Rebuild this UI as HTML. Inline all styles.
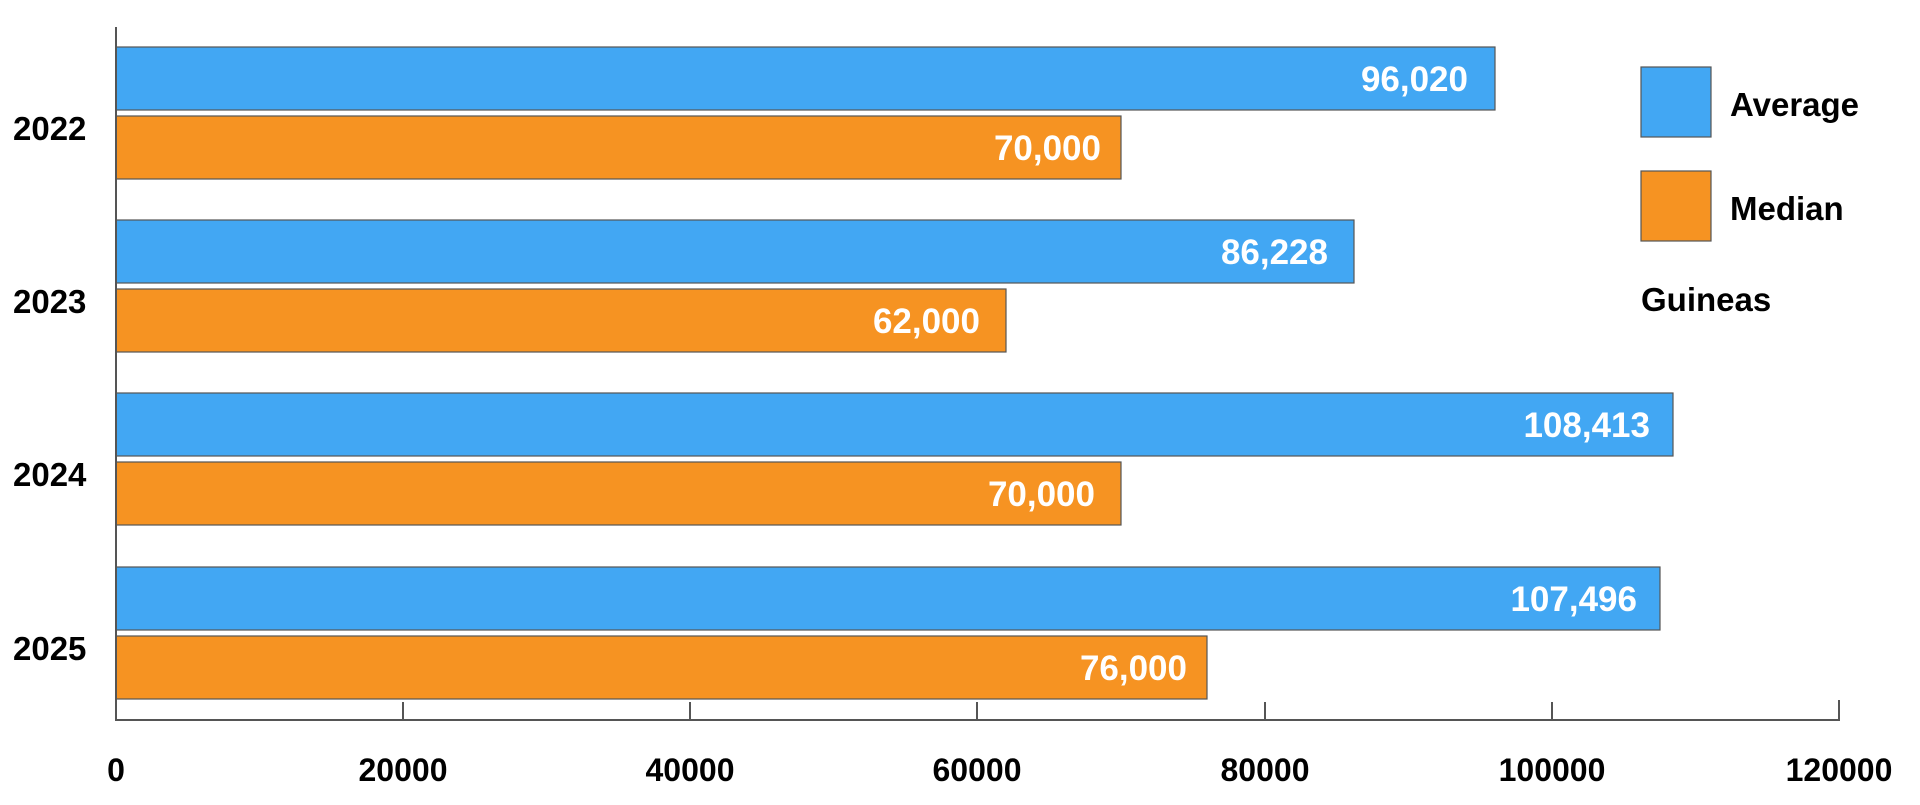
<!DOCTYPE html>
<html><head><style>
body{margin:0;width:1920px;height:800px;background:#fff;overflow:hidden}
svg text{font-family:"Liberation Sans",sans-serif;font-weight:bold}
</style></head><body>
<svg width="1920" height="800" viewBox="0 0 1920 800">
<g stroke="#555" stroke-width="1.2">
<rect x="116" y="47" width="1379" height="63" fill="#42A7F3"/>
<rect x="116" y="116" width="1005" height="63" fill="#F69322"/>
<rect x="116" y="220" width="1238" height="63" fill="#42A7F3"/>
<rect x="116" y="289" width="890" height="63" fill="#F69322"/>
<rect x="116" y="393" width="1557" height="63" fill="#42A7F3"/>
<rect x="116" y="462" width="1005" height="63" fill="#F69322"/>
<rect x="116" y="567" width="1544" height="63" fill="#42A7F3"/>
<rect x="116" y="636" width="1091" height="63" fill="#F69322"/>
<rect x="1641" y="67" width="70" height="70" fill="#42A7F3"/>
<rect x="1641" y="171" width="70" height="70" fill="#F69322"/>
</g>
<g stroke="#555" stroke-width="2" fill="none">
<path d="M116 27V720H1839V700"/>
<path d="M403 720V702M690 720V702M977 720V702M1265 720V702M1552 720V702"/>
</g>
<g font-size="35" fill="#fff" text-anchor="end">
<text x="1468" y="91">96,020</text>
<text x="1101" y="160">70,000</text>
<text x="1328" y="264">86,228</text>
<text x="980" y="333">62,000</text>
<text x="1650" y="437">108,413</text>
<text x="1095" y="506">70,000</text>
<text x="1637" y="611">107,496</text>
<text x="1187" y="680">76,000</text>
</g>
<g font-size="33" fill="#000">
<text x="13" y="140">2022</text>
<text x="13" y="313">2023</text>
<text x="13" y="486">2024</text>
<text x="13" y="660">2025</text>
<text x="1730" y="116">Average</text>
<text x="1730" y="220">Median</text>
<text x="1641" y="311">Guineas</text>
</g>
<g font-size="32" fill="#000" text-anchor="middle">
<text x="116" y="781">0</text>
<text x="403" y="781">20000</text>
<text x="690" y="781">40000</text>
<text x="977" y="781">60000</text>
<text x="1265" y="781">80000</text>
<text x="1552" y="781">100000</text>
<text x="1839" y="781">120000</text>
</g>
</svg>
</body></html>
